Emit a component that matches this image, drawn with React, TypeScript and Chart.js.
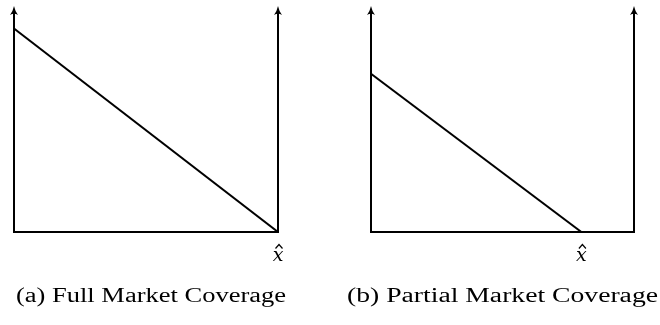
import React, { useEffect, useRef } from "react";
import { Chart, registerables } from "chart.js";

Chart.register(...registerables);

// Panel (a): full market coverage
const PANEL_A_X = [0, 1];
const PANEL_A_Y = [0.9, 0];
const PANEL_A_XHAT = 1;
const PANEL_A_CAPTION = "(a) Full Market Coverage";

// Panel (b): partial market coverage
const PANEL_B_X = [0, 0.8];
const PANEL_B_Y = [0.7, 0];
const PANEL_B_XHAT = 0.8;
const PANEL_B_CAPTION = "(b) Partial Market Coverage";

type PanelProps = {
  xs: number[];
  ys: number[];
  xhat: number;
  caption: string;
  padding: { left: number; right: number; top: number; bottom: number };
  captionLeft: number;
  captionRight: number;
};

const SERIF = '"Liberation Serif", "DejaVu Serif", serif';

function drawArrow(ctx: CanvasRenderingContext2D, x: number, tipY: number) {
  ctx.beginPath();
  ctx.moveTo(x, tipY);
  ctx.quadraticCurveTo(x - 1, tipY + 5, x - 4, tipY + 9);
  ctx.quadraticCurveTo(x, tipY + 6.5, x + 4, tipY + 9);
  ctx.quadraticCurveTo(x + 1, tipY + 5, x, tipY);
  ctx.closePath();
  ctx.fill();
}

function Panel(props: PanelProps) {
  const ref = useRef<HTMLCanvasElement | null>(null);
  useEffect(() => {
    if (!ref.current) return;
    const axesPlugin = {
      id: "econAxes",
      afterDatasetsDraw(chart: any) {
        const { ctx, chartArea, scales } = chart;
        const { left, right, top, bottom } = chartArea;
        ctx.save();
        ctx.strokeStyle = "#000";
        ctx.fillStyle = "#000";
        ctx.lineWidth = 2;
        ctx.lineCap = "butt";
        ctx.beginPath();
        ctx.moveTo(left, top + 5);
        ctx.lineTo(left, bottom);
        ctx.lineTo(right, bottom);
        ctx.lineTo(right, top + 5);
        ctx.stroke();
        drawArrow(ctx, left, top);
        drawArrow(ctx, right, top);

        // x-hat label
        const xp = scales.x.getPixelForValue(props.xhat);
        ctx.font = 'italic 19px "DejaVu Serif", serif';
        ctx.textAlign = "center";
        ctx.textBaseline = "alphabetic";
        ctx.fillText("x", xp, bottom + 29);
        ctx.lineWidth = 1.2;
        ctx.beginPath();
        ctx.moveTo(xp - 2.5, bottom + 16.5);
        ctx.lineTo(xp + 1, bottom + 12.5);
        ctx.lineTo(xp + 4.5, bottom + 16.5);
        ctx.stroke();

        // caption
        ctx.font = "20px " + SERIF;
        ctx.textAlign = "left";
        const w = ctx.measureText(props.caption).width;
        const target = props.captionRight - props.captionLeft;
        ctx.translate(props.captionLeft, 302);
        ctx.scale(target / w, 1);
        ctx.fillText(props.caption, 0, 0);
        ctx.restore();
      },
    };
    const chart = new Chart(ref.current, {
      type: "line",
      data: {
        datasets: [
          {
            data: props.xs.map((x, i) => ({ x, y: props.ys[i] })),
            borderColor: "#000",
            borderWidth: 2,
            pointRadius: 0,
            fill: false,
            tension: 0,
          },
        ],
      },
      options: {
        animation: false,
        responsive: false,
        maintainAspectRatio: false,
        layout: { padding: props.padding },
        scales: {
          x: { type: "linear", min: 0, max: 1, display: false },
          y: { type: "linear", min: 0, max: 1, display: false },
        },
        plugins: {
          legend: { display: false },
          tooltip: { enabled: false },
          title: { display: false },
        },
        events: [],
      },
      plugins: [axesPlugin],
    });
    return () => chart.destroy();
  }, []);
  return <canvas ref={ref} width={330} height={325} style={{ display: "block", width: 330, height: 325 }} />;
}

export default function App() {
  return (
    <div
      style={{
        position: "fixed",
        left: 0,
        top: 0,
        width: 660,
        height: 325,
        background: "#fff",
        display: "flex",
      }}
    >
      <Panel
        xs={PANEL_A_X}
        ys={PANEL_A_Y}
        xhat={PANEL_A_XHAT}
        caption={PANEL_A_CAPTION}
        padding={{ left: 14, right: 52, top: 6, bottom: 93 }}
        captionLeft={16}
        captionRight={286}
      />
      <Panel
        xs={PANEL_B_X}
        ys={PANEL_B_Y}
        xhat={PANEL_B_XHAT}
        caption={PANEL_B_CAPTION}
        padding={{ left: 41, right: 26, top: 6, bottom: 93 }}
        captionLeft={17}
        captionRight={328}
      />
    </div>
  );
}
